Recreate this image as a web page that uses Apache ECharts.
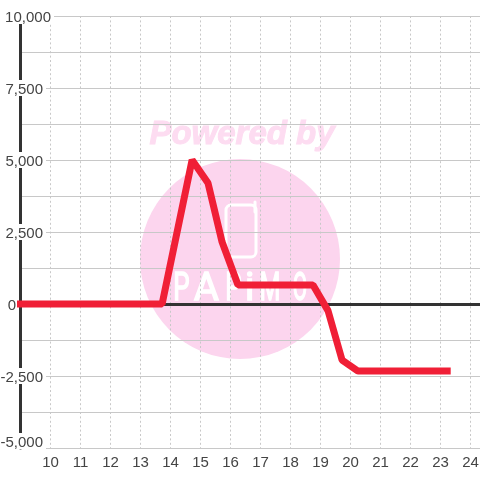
<!DOCTYPE html>
<html>
<head>
<meta charset="utf-8">
<style>
  html, body { margin: 0; padding: 0; background: #fff; }
  #chart { width: 480px; height: 480px; }
</style>
</head>
<body>
<div id="chart"></div>
<script src="https://cdn.jsdelivr.net/npm/echarts@6/dist/echarts.min.js"></script>
<script>
// values
const xValues = [8.88, 13.72, 14.72, 15.25, 15.72, 16.25, 18.75, 19.25, 19.72, 20.25, 23.34]
const yValues = [0, 0, 5000, 4200, 2150, 660, 660, -230, -1950, -2330, -2330]
const logoLetters = ['P', 'A', 'P', 'i', 'M', 'O']
const logoLetterX = [181.5, 206.5, 233.5, 249.5, 270, 300]
const logoLetterScale = [0.68, 1, 0.68, 1, 0.62, 0.55]

const FONT = '"Liberation Sans", Arial, sans-serif'
const TEXT_COLOR = '#444'
const GRID_COLOR = '#c8c8c8'
const PINK = '#fcd5ee'

const xMin = 9
const xMax = 24.3167

function formatY(value) {
  const text = value.toLocaleString('en-US')
  // the top label sits further right, the bottom one is pushed up, 0 stays left of the axis
  if (value === 10000) return '{n|' + text + '}'
  if (value === -5000) return '{n|' + text + '}{s|}\n{v|}'
  if (value === 0) return '{z|' + text + '}{w|}'
  return '{n|' + text + '}{s|}'
}

let myEcharts = echarts.init(document.getElementById('chart'), null, { renderer: 'canvas' })

let option = {
  animation: false,
  backgroundColor: '#fff',
  textStyle: { fontFamily: FONT },
  grid: { left: 20.5, right: 0, top: 16, bottom: 32, outerBoundsMode: 'none' },
  // watermark
  graphic: [
    { type: 'circle', z: -10, shape: { cx: 240, cy: 259, r: 100 }, style: { fill: PINK } },
    {
      type: 'text', z: -10, x: 242, y: 135,
      style: {
        text: 'Powered by', fill: '#fddcf1', stroke: '#fddcf1', lineWidth: 1,
        align: 'center', verticalAlign: 'middle',
        font: 'italic bold 33px ' + FONT
      }
    },
    {
      type: 'rect', z: -9, shape: { x: 226, y: 205, width: 30, height: 52, r: 5 },
      style: { fill: 'none', stroke: '#fff', lineWidth: 3 }
    },
    {
      type: 'line', z: -9, shape: { x1: 255, y1: 202, x2: 255, y2: 212 },
      style: { stroke: '#fff', lineWidth: 3, lineCap: 'round' }
    }
  ].concat(logoLetters.map((letter, i) => ({
    type: 'text', z: -9, x: logoLetterX[i], y: 290, scaleX: logoLetterScale[i],
    style: {
      text: letter, fill: '#fff', stroke: '#fff', lineWidth: 1.5,
      align: 'center', verticalAlign: 'middle', font: '38px Roboto'
    }
  }))),
  xAxis: [
    {
      type: 'value',
      min: xMin,
      max: xMax,
      interval: 1,
      axisLine: { show: false, onZero: false },
      axisTick: { show: false },
      axisLabel: {
        margin: 7,
        fontSize: 15,
        fontFamily: FONT,
        color: TEXT_COLOR,
        showMaxLabel: false,
        formatter: value => (value < 10 ? '' : String(value))
      },
      splitLine: {
        show: true,
        showMinLine: false,
        showMaxLine: false,
        lineStyle: { color: GRID_COLOR, type: [2, 2.4], width: 1 }
      }
    },
    {
      // dark zero line
      type: 'value',
      position: 'bottom',
      min: xMin,
      max: xMax,
      interval: 1,
      axisLine: { show: true, onZero: true, lineStyle: { color: '#333', width: 3 } },
      axisTick: { show: false },
      axisLabel: { show: false },
      splitLine: { show: false }
    }
  ],
  yAxis: {
    type: 'value',
    min: -5000,
    max: 10000,
    interval: 2500,
    axisLine: { show: true, onZero: false, lineStyle: { color: '#333', width: 3 } },
    axisTick: { show: false },
    axisLabel: {
      inside: true,
      align: 'right',
      margin: 33.5,
      formatter: formatY,
      rich: {
        n: { fontSize: 15, fontFamily: FONT, color: TEXT_COLOR, backgroundColor: '#fff', padding: [3, 3, 0, 3], height: 13, lineHeight: 14 },
        z: { fontSize: 15, fontFamily: FONT, color: TEXT_COLOR, padding: [3, 3, 0, 3], height: 13, lineHeight: 14 },
        s: { width: 8 },
        w: { width: 35 },
        v: { height: 14, lineHeight: 14 }
      }
    },
    splitLine: { show: true, lineStyle: { color: GRID_COLOR, width: 1 } },
    minorTick: { show: false, splitNumber: 2 },
    minorSplitLine: { show: true, lineStyle: { color: GRID_COLOR, width: 1 } }
  },
  series: [
    {
      type: 'line',
      xAxisIndex: 0,
      symbol: 'none',
      clip: false,
      lineStyle: { color: '#f01f36', width: 7, cap: 'butt', join: 'bevel' },
      data: xValues.map((x, i) => [x, yValues[i]])
    }
  ]
}

option && myEcharts.setOption(option)
</script>
</body>
</html>
